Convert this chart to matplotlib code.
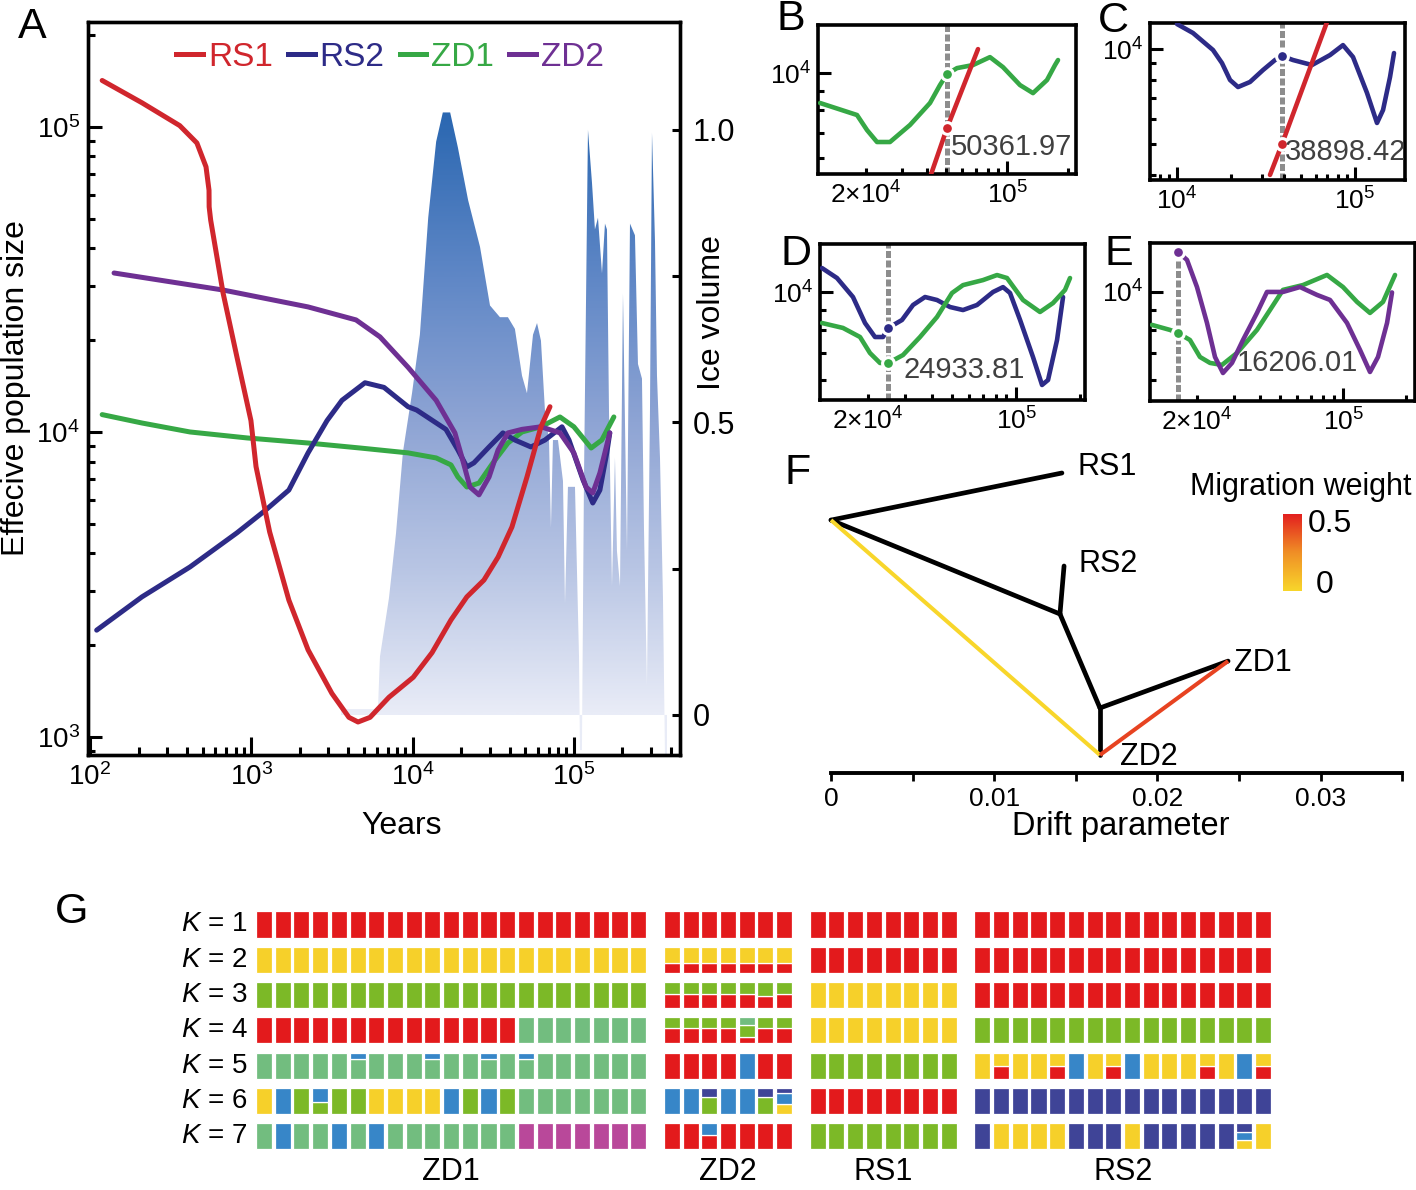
import re
import numpy as np
import matplotlib
matplotlib.use("Agg")
import matplotlib.pyplot as plt
from matplotlib import ticker
from matplotlib import transforms as mtrans
from matplotlib.colors import LinearSegmentedColormap
from matplotlib.patches import Polygon
from matplotlib.lines import Line2D

# ======================= DATA =======================
# Panel A: PSMC-like curves (years, effective population size)
rs1_t = [119, 210, 360, 460, 524, 547, 548, 560, 668, 815, 995, 1070, 1300, 1710, 2250, 3160, 4030, 4590, 5450, 7140,
         10100, 13200, 17300, 21700, 27700, 33900, 41300, 51200, 62500, 71100]
rs1_n = [142000, 120000, 101000, 88600, 74000, 62000, 54700, 49500, 28600, 17600, 10900, 7700, 4700, 2810, 1930, 1390,
         1160, 1120, 1160, 1350, 1570, 1890, 2420, 2880, 3270, 3890, 4880, 7120, 10400, 12100]
rs2_t = [110, 210, 417, 815, 1230, 1710, 2250, 2950, 3650, 5070, 6650, 9370, 10600, 16100, 19100, 21700, 24000, 29800,
         36300, 43100, 54200, 66200, 84400, 93300, 114000, 131000, 145000, 160000, 167000]
rs2_n = [2240, 2880, 3610, 4670, 5550, 6450, 8540, 10900, 12700, 14500, 14000, 12100, 11800, 10200, 8730, 7680, 7920,
         8930, 9930, 9410, 8930, 9410, 10400, 9410, 6960, 5850, 6450, 8540, 9930]
zd1_t = [119, 210, 417, 940, 2250, 4720, 9370, 14000, 17300, 19100, 21700, 25800, 31500, 39000, 47700, 62500, 82000,
         100000, 128000, 149000, 177000]
zd1_n = [11400, 10700, 10000, 9560, 9200, 8860, 8540, 8220, 7800, 7120, 6600, 6800, 7920, 9200, 10000, 10400, 11200,
         10400, 8860, 9410, 11200]
zd2_t = [141, 668, 2250, 4460, 6280, 9370, 14000, 18300, 20200, 22700, 25800, 29800, 33900, 39000, 47700, 62500, 82000,
         100000, 119000, 131000, 145000, 167000]
zd2_n = [33200, 29200, 25700, 23300, 20500, 16300, 12700, 9930, 8280, 6600, 6220, 7120, 8730, 9930, 10200, 10400, 9930,
         8540, 6600, 6310, 7340, 9930]

# Panel A: ice volume (years, relative volume)
ice_t = [3600, 6100, 6280, 7140, 7890, 8720, 9920, 11100, 12500, 14000, 15400, 17100, 19100, 22100, 26200, 30200,
         34800, 39000, 43100, 47700, 51200, 55800, 59100, 62500, 66200, 70100, 72100, 74200, 79700, 85600, 88100,
         91900, 101600, 107600, 109100, 112200, 115500, 122300, 129500, 135100, 141100, 149400, 155900, 160400,
         165100, 172300, 179800, 185000, 193200, 201600, 213500, 222800, 239200, 249700, 264400, 272000, 283900,
         296400, 305000, 318400, 327600, 341900, 356800, 367200, 377800, 383200]
ice_v = [0.01, 0.01, 0.10, 0.20, 0.31, 0.45, 0.55, 0.65, 0.85, 0.98, 1.03, 1.03, 0.97, 0.88, 0.80, 0.70, 0.68, 0.68,
         0.66, 0.58, 0.55, 0.65, 0.67, 0.64, 0.52, 0.47, 0.32, 0.47, 0.47, 0.40, 0.19, 0.39, 0.39, 0.10, -0.06, -0.06,
         0.40, 1.00, 0.91, 0.83, 0.85, 0.755, 0.84, 0.83, 0.52, 0.22, 0.44, 0.28, 0.22, 0.72, 0.28, 0.84, 0.82, 0.60,
         0.575, 0.32, 0.05, 0.52, 0.995, 0.81, 0.58, 0.44, 0.20, -0.07, -0.07, 0.0]

# Panel B (ZD1 vs RS1), split 50361.97
b_split = 50361.97
b_zd1_t = [11840, 18050, 20230, 22670, 26290, 33020, 41480, 46480, 50360, 56430, 67720, 82170, 95320, 115700, 134200,
           157400, 172500, 178500]
b_zd1_n = [8360, 7780, 7110, 6620, 6620, 7330, 8360, 9307, 9940, 10300, 10490, 11000, 10360, 9307, 8870, 9590, 10490,
           10810]
b_rs1_t = [41020, 50360, 71700]
b_rs1_n = [5270, 7197, 11540]
b_dot_n = [9940, 7197]          # ZD1, RS1 at split

# Panel C (RS2 vs RS1), split 38898.42
c_split = 38898.42
c_rs2_t = [10000, 12300, 15930, 17890, 19860, 22020, 25710, 30420, 35530, 38900, 44850, 57340, 72380, 85600, 97450,
           116800, 132900, 143700, 157300, 165600]
c_rs2_n = [12000, 11240, 9930, 9030, 7980, 7580, 7865, 8580, 9230, 9503, 9230, 8900, 9570, 10290, 9434, 7260, 5833,
           6412, 8155, 9712]
c_rs1_t = [33300, 38900, 69600]
c_rs1_n = [3994, 5005, 12170]
c_dot_n = [9503, 5005]          # RS2, RS1

# Panel D (RS2 vs ZD1), split 24933.81
d_split = 24933.81
d_rs2_t = [12130, 14280, 16990, 19360, 21580, 23540, 24934, 28930, 32620, 37150, 42310, 48730, 56120, 65340, 77740,
           86680, 93500, 104300, 120000, 132400, 141300, 155800, 166300]
d_rs2_n = [11500, 10850, 9712, 8347, 7692, 7692, 8110, 8495, 9271, 9712, 9544, 9162, 9002, 9271, 10000, 10290, 9942,
           8495, 6845, 5816, 5987, 7557, 9712]
d_zd1_t = [12130, 15240, 18340, 20430, 22780, 24934, 29250, 35180, 42310, 49800, 56120, 69740, 81210, 90490, 107700,
           129500, 149200, 169900, 179400]
d_zd1_n = [8347, 8110, 7692, 7007, 6612, 6612, 6925, 7692, 8644, 9942, 10410, 10720, 11040, 10850, 9544, 8900, 9378,
           10120, 10850]
d_dot_n = [8110, 6612]          # RS2, ZD1

# Panel E (ZD2 vs ZD1), split 16206.01
e_split = 16206.01
e_zd2_t = [16206, 17920, 20000, 22330, 24390, 26630, 29410, 33200, 38730, 43240, 51590, 62220, 75040, 86570, 104400,
           120500, 134500, 146900, 162300, 171400]
e_zd2_n = [12630, 12050, 10290, 8347, 6845, 6235, 6612, 7557, 8848, 10000, 10000, 10290, 9827, 9544, 8347, 7131, 6272,
           6845, 8347, 9971]
e_zd1_t = [12180, 14850, 16206, 18510, 20670, 23080, 26340, 31080, 38730, 44700, 51590, 64310, 83750, 99890, 116600,
           134500, 155200, 177200]
e_zd1_n = [8252, 8014, 7876, 7557, 6845, 6612, 6535, 7007, 8014, 9002, 10120, 10410, 11040, 10290, 9434, 8848, 9434,
           11040]
e_dot_n = [12630, 7876]         # ZD2, ZD1

# Panel F: TreeMix tree
node_names = ["root", "RS1", "n1", "RS2", "n2", "ZD1", "ZD2"]
node_drift = [0.0, 0.01415, 0.01403, 0.01428, 0.01648, 0.02433, 0.01648]
node_level = [0.843, 1.0, 0.53, 0.69, 0.2167, 0.373, 0.06]
tree_edges = [(0, 1), (0, 2), (2, 3), (2, 4), (4, 5), (4, 6)]
mig_edges = [(0, 6), (5, 6)]
mig_weight = [0.0, 0.42]
drift_ticks = [0.0, 0.01, 0.02, 0.03]
drift_tick_labels = ["0", "0.01", "0.02", "0.03"]
drift_minor = [0.005, 0.015, 0.025, 0.035]

# Panel G: ADMIXTURE (tokens: colour codes + % bottom->top; "*n" = n identical individuals)
group_names = ["ZD1", "ZD2", "RS1", "RS2"]
k1 = ["R*21", "R*7", "R*8", "R*16"]
k2 = ["Y*21", "R37Y63*7", "R*8", "R*16"]
k3 = ["G*21", "R55G45*5 R45G55 R55G45", "Y*8", "R*16"]
k4 = ["R*14 L*7", "R60G40*4 R25G45L30 R60G40*2", "Y*8", "G*16"]
k5 = ["L*5 L75B25 L*3 L75B25 L*2 L75B25 L L75B25 L*6", "R*4 B R*2", "G*8",
      "Y R50Y50 Y Y R50Y50 B Y R50Y50 B Y Y Y R50Y50 Y B R50Y50"]
k6 = ["Y B G G45B55 G G Y Y Y Y B G B G L*7", "B B G67N33 B B G67N33 Y40B40N20", "R*8", "N*16"]
k7 = ["L B L L B L B L*7 M*7", "R R R55B45 R*4", "G*8", "N Y Y Y Y N N N Y N N N N N Y35B30N35 Y"]

# ======================= STYLE =======================
plt.rcParams['font.family'] = ['Liberation Sans', 'DejaVu Sans']
plt.rcParams['mathtext.fontset'] = 'custom'
plt.rcParams['mathtext.rm'] = 'Liberation Sans'
plt.rcParams['mathtext.it'] = 'Liberation Sans:italic'
plt.rcParams['mathtext.bf'] = 'Liberation Sans:bold'
plt.rcParams['axes.linewidth'] = 2.4

C_RS1 = '#d0262d'
C_RS2 = '#2d2b87'
C_ZD1 = '#36a845'
C_ZD2 = '#6e3093'
LAB_GRAY = '#404040'
DASH_GRAY = '#8d8d8d'

W, H = 1416, 1190
fig = plt.figure(figsize=(W / 100, H / 100), dpi=100)


def add_ax(l, t, r, b):
    return fig.add_axes([l / W, 1 - b / H, (r - l) / W, (b - t) / H])


def ftext(x, y, s, **kw):
    return fig.text(x / W, 1 - y / H, s, **kw)


# ======================= PANEL A =======================
axA = add_ax(88, 22, 680, 755)
axI = axA.twinx()
axA.set_zorder(axI.get_zorder() + 1)
axA.patch.set_visible(False)
axA.set_xscale('log')
axA.set_yscale('log')

ice_cmap = LinearSegmentedColormap.from_list(
    'ice', [(0.0, '#e9ecf7'), (0.25 / 1.03, '#b8c5e4'), (0.5 / 1.03, '#8ea4d4'),
            (0.75 / 1.03, '#5f87c6'), (1.0, '#2a67b1')])
grad = np.linspace(-0.07, 1.05, 400).reshape(-1, 1)
im = axI.imshow(np.clip(grad, 0, None), origin='lower', aspect='auto', cmap=ice_cmap, vmin=0, vmax=1.03,
                extent=[ice_t[0], ice_t[-1], -0.07, 1.05], interpolation='bilinear', zorder=1)
verts = np.column_stack([np.r_[ice_t, ice_t[-1], ice_t[0]], np.r_[ice_v, 0.0, 0.0]])
clip = Polygon(verts, closed=True, transform=axI.transData, facecolor='none', edgecolor='none')
axI.add_patch(clip)
im.set_clip_path(clip)

for t, n, c in [(zd1_t, zd1_n, C_ZD1), (rs2_t, rs2_n, C_RS2), (zd2_t, zd2_n, C_ZD2), (rs1_t, rs1_n, C_RS1)]:
    axA.plot(t, n, color=c, lw=3.6, solid_capstyle='round', solid_joinstyle='round', zorder=3)

axA.set_xlim(97.2, 4.55e5)
axA.set_ylim(873, 2.208e5)
axI.set_ylim(-0.0684, 1.1846)

for ax_ in (axA.xaxis, axA.yaxis):
    ax_.set_major_locator(ticker.LogLocator(base=10, numticks=12))
    ax_.set_minor_locator(ticker.LogLocator(base=10, subs=np.arange(2, 10), numticks=40))
    ax_.set_minor_formatter(ticker.NullFormatter())
axA.tick_params(axis='x', which='major', direction='in', length=13, width=2.2, labelsize=20, pad=6)
axA.tick_params(axis='x', which='minor', direction='in', length=5.5, width=2.2)
axA.tick_params(axis='y', which='major', direction='in', length=10, width=2.2, labelsize=20, pad=6)
axA.tick_params(axis='y', which='minor', direction='in', length=5, width=2.2)

axI.yaxis.set_major_locator(ticker.FixedLocator([0, 0.5, 1.0]))
axI.yaxis.set_minor_locator(ticker.FixedLocator([0.25, 0.75]))
axI.yaxis.set_major_formatter(ticker.FixedFormatter(['0', '0.5', '1.0']))
axI.tick_params(axis='y', which='both', direction='in', length=6, width=2.2, labelsize=22, pad=9)
for s in axI.spines.values():
    s.set_linewidth(2.4)

handles = [Line2D([], [], color=c, lw=3.6) for c in (C_RS1, C_RS2, C_ZD1, C_ZD2)]
axA.legend(handles, ['RS1', 'RS2', 'ZD1', 'ZD2'], loc='center', bbox_to_anchor=(390 / W, 1 - 57 / H),
           bbox_transform=fig.transFigure, ncol=4, frameon=False, fontsize=24, handlelength=0.8,
           handletextpad=0.15, columnspacing=0.45, labelcolor='linecolor', borderpad=0, borderaxespad=0)

ftext(16, 388, 'Effecive population size', rotation=90, fontsize=23, ha='center', va='center')
ftext(402, 826, 'Years', fontsize=23, ha='center', va='center')
ftext(712, 313, 'Ice volume', rotation=90, fontsize=23, ha='center', va='center')


# ======================= PANELS B-E =======================
def small_panel(box, xlim, ylim, xlabels):
    ax = add_ax(*box)
    ax.set_xscale('log')
    ax.set_yscale('log')
    ax.set_xlim(xlim)
    ax.set_ylim(ylim)
    for s in ax.spines.values():
        s.set_linewidth(2.6)

    def fmt(v, p, d=xlabels):
        for k, s in d.items():
            if abs(v / k - 1) < 1e-6:
                return s
        return ''
    ax.xaxis.set_major_locator(ticker.FixedLocator([1e4, 1e5]))
    ax.xaxis.set_minor_locator(ticker.LogLocator(base=10, subs=np.arange(2, 10), numticks=40))
    ax.xaxis.set_major_formatter(ticker.FuncFormatter(fmt))
    ax.xaxis.set_minor_formatter(ticker.FuncFormatter(fmt))
    ax.yaxis.set_major_locator(ticker.FixedLocator([1e4]))
    ax.yaxis.set_minor_locator(ticker.LogLocator(base=10, subs=np.arange(2, 10), numticks=40))
    ax.yaxis.set_major_formatter(ticker.FixedFormatter([r'$\mathdefault{10^{4}}$']))
    ax.yaxis.set_minor_formatter(ticker.NullFormatter())
    ax.tick_params(which='major', direction='in', length=9.5, width=2.2, labelsize=19, pad=5,
                   top=False, right=False)
    ax.tick_params(which='minor', direction='in', length=4.5, width=2.2, labelsize=19, pad=5,
                   top=False, right=False)
    return ax


def split_label(ax, split, yfrac, dx):
    tr = mtrans.blended_transform_factory(ax.transData, ax.transAxes)
    ax.annotate(f'{split:.2f}', xy=(split, yfrac), xycoords=tr, xytext=(dx, 0), textcoords='offset pixels',
                ha='left', va='center', fontsize=21, color=LAB_GRAY, zorder=6)


def dot(ax, x, y, c):
    ax.plot([x], [y], 'o', ms=8.5, mfc=c, mec='white', mew=2.2, zorder=5, clip_on=False)


DASH = dict(color=DASH_GRAY, lw=3.6, ls=(0, (1.4, 0.5)), zorder=1)
lab_2e4 = {2e4: r'$\mathdefault{2×10^{4}}$', 1e5: r'$\mathdefault{10^{5}}$'}
lab_1e4 = {1e4: r'$\mathdefault{10^{4}}$', 1e5: r'$\mathdefault{10^{5}}$'}
lw_s = 3.3

# B
axB = small_panel((818, 25, 1076, 174), (11570, 219100), (5467, 13330), lab_2e4)
axB.axvline(b_split, **DASH)
axB.plot(b_zd1_t, b_zd1_n, color=C_ZD1, lw=lw_s, solid_capstyle='round', solid_joinstyle='round', zorder=3)
axB.plot(b_rs1_t, b_rs1_n, color=C_RS1, lw=lw_s, solid_capstyle='round', zorder=3)
dot(axB, b_split, b_dot_n[0], C_ZD1)
dot(axB, b_split, b_dot_n[1], C_RS1)
split_label(axB, b_split, 0.181, 4)

# C
axC = small_panel((1150, 23, 1405, 180), (7053, 190900), (3849, 12090), lab_1e4)
axC.axvline(c_split, **DASH)
axC.plot(c_rs2_t, c_rs2_n, color=C_RS2, lw=lw_s, solid_capstyle='round', solid_joinstyle='round', zorder=3)
axC.plot(c_rs1_t, c_rs1_n, color=C_RS1, lw=lw_s, solid_capstyle='round', zorder=3)
dot(axC, c_split, c_dot_n[0], C_RS2)
dot(axC, c_split, c_dot_n[1], C_RS1)
split_label(axC, c_split, 0.178, 3)

# D
axD = small_panel((820, 244, 1085, 400), (11875, 211100), (5328, 13230), lab_2e4)
axD.axvline(d_split, **DASH)
axD.plot(d_rs2_t, d_rs2_n, color=C_RS2, lw=lw_s, solid_capstyle='round', solid_joinstyle='round', zorder=3)
axD.plot(d_zd1_t, d_zd1_n, color=C_ZD1, lw=lw_s, solid_capstyle='round', solid_joinstyle='round', zorder=3)
dot(axD, d_split, d_dot_n[0], C_RS2)
dot(axD, d_split, d_dot_n[1], C_ZD1)
split_label(axD, d_split, 0.192, 15)

# E
axE = small_panel((1150, 243, 1415, 401), (11920, 220800), (5296, 13300), lab_2e4)
axE.plot([e_split, e_split], [5296, e_dot_n[0]], **DASH)
axE.plot(e_zd1_t, e_zd1_n, color=C_ZD1, lw=lw_s, solid_capstyle='round', solid_joinstyle='round', zorder=3)
axE.plot(e_zd2_t, e_zd2_n, color=C_ZD2, lw=lw_s, solid_capstyle='round', solid_joinstyle='round', zorder=3)
dot(axE, e_split, e_dot_n[0], C_ZD2)
dot(axE, e_split, e_dot_n[1], C_ZD1)
split_label(axE, e_split, 0.24, 59)

# ======================= PANEL F =======================
mig_cmap = LinearSegmentedColormap.from_list('mig', ['#f8d62b', '#f08f26', '#e3201f'])
axF = add_ax(820, 440, 1412, 773)
axF.set_xlim(-0.000674, 0.0356)
axF.set_ylim(0, 1.11)
for s in ['left', 'top', 'right']:
    axF.spines[s].set_visible(False)
axF.spines['bottom'].set_bounds(0, 0.035)
axF.spines['bottom'].set_linewidth(2.8)
axF.yaxis.set_visible(False)
axF.patch.set_visible(False)
axF.xaxis.set_major_locator(ticker.FixedLocator(drift_ticks))
axF.xaxis.set_major_formatter(ticker.FixedFormatter(drift_tick_labels))
axF.xaxis.set_minor_locator(ticker.FixedLocator(drift_minor))
axF.tick_params(axis='x', which='both', direction='out', length=6, width=2, labelsize=19, pad=4)

for a, b in tree_edges:
    axF.plot([node_drift[a], node_drift[b]], [node_level[a], node_level[b]], color='black', lw=3.4,
             solid_capstyle='round', zorder=2)
for (a, b), w in zip(mig_edges, mig_weight):
    axF.plot([node_drift[a], node_drift[b]], [node_level[a], node_level[b]], color=mig_cmap(w / 0.5), lw=2.9,
             solid_capstyle='butt', zorder=3)

tip_offsets = {"RS1": (16, 6), "RS2": (14, 2), "ZD1": (6, -2), "ZD2": (20, -2)}
for i, nm in enumerate(node_names):
    if nm in tip_offsets:
        axF.annotate(nm, (node_drift[i], node_level[i]), xytext=tip_offsets[nm], textcoords='offset pixels',
                     ha='left', va='center', fontsize=22)

axCB = add_ax(1283, 514, 1302, 591)
axCB.imshow(np.linspace(0, 0.5, 200).reshape(-1, 1), origin='lower', aspect='auto', cmap=mig_cmap, vmin=0, vmax=0.5)
axCB.axis('off')
ftext(1308, 524, '0.5', fontsize=23, ha='left', va='center')
ftext(1316, 585, '0', fontsize=23, ha='left', va='center')
ftext(1301, 487, 'Migration weight', fontsize=22, ha='center', va='center')
ftext(1121, 826, 'Drift parameter', fontsize=23.5, ha='center', va='center')

# ======================= PANEL G =======================
COLS = {'R': '#e31a1c', 'Y': '#f6d02a', 'G': '#7cb927', 'L': '#72bd7f', 'B': '#3786c8', 'N': '#3f4497',
        'M': '#b9489a'}
G_GAP = 0.8
BAR_W = 0.86
ROW_H = 0.74


def expand(gs):
    out = []
    for tok in gs.split():
        if '*' in tok:
            name, n = tok.split('*')
            out += [name] * int(n)
        else:
            out.append(tok)
    return out


def parse(tok):
    comps = []
    for code, pct in re.findall(r'([A-Z])(\d*)', tok):
        comps.append((code, int(pct) / 100 if pct else 1.0))
    return comps


axG = add_ax(256, 905, 1271, 1155)
axG.set_xlim(0, 54.26)
axG.set_ylim(6.53, -0.552)
axG.axis('off')

rows = [k1, k2, k3, k4, k5, k6, k7]
group_centers = []
for r, row in enumerate(rows):
    x0 = 0.0
    for gi, gs in enumerate(row):
        inds = expand(gs)
        for j, tok in enumerate(inds):
            ybase = r + ROW_H / 2
            for code, frac in parse(tok):
                h = frac * ROW_H
                axG.bar(x0 + j, h, bottom=ybase - h, width=BAR_W, align='edge', color=COLS[code],
                        edgecolor='white', linewidth=0.9)
                ybase -= h
        if r == 0:
            group_centers.append(x0 + (len(inds) - 1 + BAR_W) / 2)
        x0 += len(inds) + G_GAP
    axG.text(-0.45, r, f'$K$ = {r + 1}', ha='right', va='center', fontsize=20)

for nm, cx in zip(group_names, group_centers):
    axG.text(cx, 7.02, nm, ha='center', va='center', fontsize=22)

# ======================= PANEL LETTERS =======================
for letter, x, y in [('A', 18, 38), ('B', 777, 30), ('C', 1098, 32), ('D', 780, 265), ('E', 1104, 265),
                     ('F', 784, 484), ('G', 55, 923)]:
    ftext(x, y, letter, fontsize=31, ha='left', va='baseline')

fig.savefig('out.png', dpi=100)
